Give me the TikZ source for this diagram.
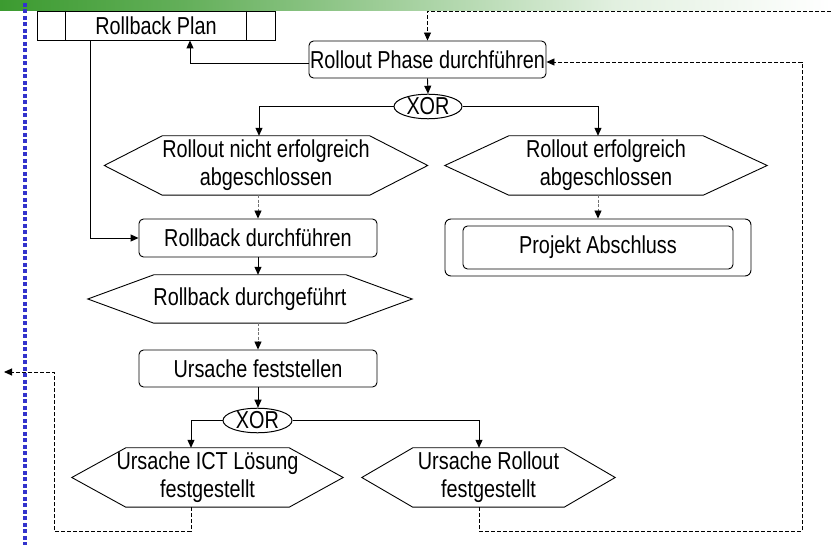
\documentclass[tikz,border=0pt]{standalone}
\usepackage{fontspec}
\setmainfont[FakeStretch=0.81]{Liberation Sans}
\usetikzlibrary{arrows.meta,shapes.geometric,calc}
\definecolor{barg}{RGB}{60,155,48}
\definecolor{dotblue}{RGB}{51,51,204}
\pgfdeclarehorizontalshading{topbar}{100bp}{color(0bp)=(barg); color(25bp)=(barg); color(36bp)=(barg!80!white); color(50bp)=(barg!45!white); color(62bp)=(barg!15!white); color(75bp)=(white); color(100bp)=(white)}
\newcommand\hexdraw[2]{\draw[line width=0.9pt] (#1.west) -- ([xshift=#2]#1.north west) -- ([xshift=-#2]#1.north east) -- (#1.east) -- ([xshift=-#2]#1.south east) -- ([xshift=#2]#1.south west) -- cycle;}
\begin{document}
\begin{tikzpicture}[x=1pt,y=-1pt,font=\fontsize{24.5}{28}\selectfont,
  box/.style={draw, rounded corners=4.5pt, line width=0.9pt, inner sep=0pt},
  hexnode/.style={inner sep=0pt, minimum height=59pt, align=center},
  xorn/.style={ellipse, draw, line width=1pt, inner sep=0pt, minimum width=68pt, minimum height=22pt},
  conn/.style={line width=0.9pt, -{Triangle[length=8pt,width=7pt]}},
  dconn/.style={conn, dash pattern=on 4pt off 2pt},
  gconn/.style={line width=0.9pt, draw=black!55, dash pattern=on 3pt off 1.5pt, -{Triangle[length=8pt,width=7pt,color=black]}}]
\useasboundingbox (0,0) rectangle (831,545);
\shade[shading=topbar] (0,0) rectangle (831,11);
\draw[dotblue, line width=4pt, dash pattern=on 4pt off 2.5pt] (25,3) -- (25,545);

% nodes
\node[draw, line width=0.9pt, minimum width=238pt, minimum height=29pt, inner sep=0pt] (rbplan) at (156,25.5) {Rollback Plan};
\draw[line width=0.9pt] ([xshift=29pt]rbplan.north west) -- ([xshift=29pt]rbplan.south west);
\draw[line width=0.9pt] ([xshift=-29pt]rbplan.north east) -- ([xshift=-29pt]rbplan.south east);
\node[box, minimum width=237pt, minimum height=37pt] (rop) at (427.5,59.5) {Rollout Phase durchführen};
\node[xorn] (xor1) at (428,106.5) {XOR};
\node[hexnode, minimum width=323pt] (h1) at (266,165.5) {Rollout nicht erfolgreich\\abgeschlossen};
\hexdraw{h1}{58pt}
\node[hexnode, minimum width=322pt] (h2) at (606,165.5) {Rollout erfolgreich\\abgeschlossen};
\hexdraw{h2}{64pt}
\node[box, minimum width=238pt, minimum height=38pt] (rbd) at (258,238) {Rollback durchführen};
\node[box, minimum width=306pt, minimum height=57pt, rounded corners=6pt] (paout) at (598,247.5) {};
\node[box, minimum width=270pt, minimum height=43pt] (pa) at (598,247.5) {Projekt Abschluss};
\node[hexnode, minimum width=324pt, minimum height=48pt] (h3) at (250,299) {Rollback durchgeführt};
\hexdraw{h3}{66pt}
\node[box, minimum width=238pt, minimum height=37pt] (ursf) at (258,368.5) {Ursache feststellen};
\node[xorn, minimum width=69pt, minimum height=23pt] (xor2) at (257.5,420.5) {XOR};
\node[hexnode, minimum width=271pt] (h4) at (207.5,477.5) {Ursache ICT Lösung\\festgestellt};
\hexdraw{h4}{54pt}
\node[hexnode, minimum width=253pt] (h5) at (488.5,477.5) {Ursache Rollout\\festgestellt};
\hexdraw{h5}{51pt}

% connectors
\coordinate (topright) at (831,11);
\coordinate (exitL) at (4,372);
\draw[dconn] (topright) -- (rop.north |- topright) -- (rop.north);
\draw[conn] ([yshift=-4pt]rop.west) -| ([xshift=34pt]rbplan.south);
\draw[conn] (rop.south) -- (xor1.north);
\draw[conn] (xor1.west) -| ([xshift=-7pt]h1.north);
\draw[conn] (xor1.east) -| ([xshift=-8pt]h2.north);
\draw[gconn] (rbd.north |- h1.south) -- (rbd.north);
\draw[gconn] (paout.north |- h2.south) -- (paout.north);
\draw[conn] ([xshift=-66pt]rbplan.south) |- (rbd.west);
\draw[conn] (rbd.south) -- (rbd.south |- h3.north);
\draw[gconn] (ursf.north |- h3.south) -- (ursf.north);
\draw[conn] (ursf.south) -- (ursf.south |- xor2.north);
\draw[conn] (xor2.west) -| ([xshift=-16.5pt]h4.north);
\draw[conn] (xor2.east) -| ([xshift=-9.5pt]h5.north);
\draw[dconn] ([xshift=-16.5pt]h4.south) -- ++(0,24) -| (54,372) -- (exitL);
\draw[dconn] ([xshift=-9.5pt]h5.south) -- ++(0,24) -| (802,62) -- ([yshift=-2.5pt]rop.east);
\end{tikzpicture}
\end{document}
